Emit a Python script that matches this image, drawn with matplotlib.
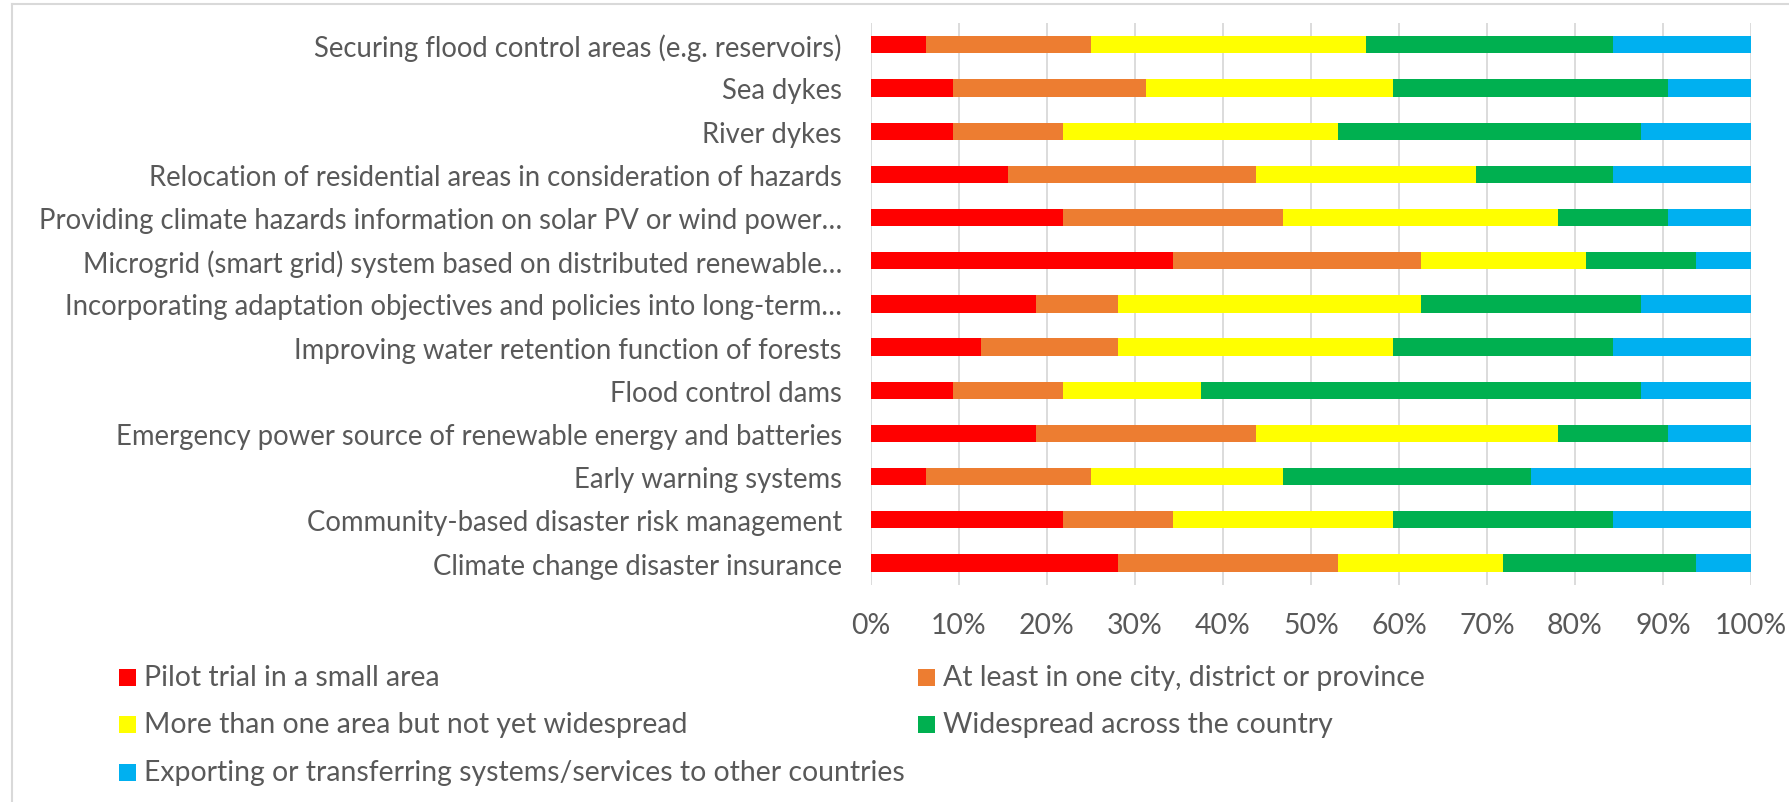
import matplotlib
matplotlib.use("Agg")
import matplotlib.pyplot as plt
from matplotlib.patches import Rectangle
from matplotlib.lines import Line2D
import numpy as np

plt.rcParams["font.family"] = ["Lato", "DejaVu Sans"]

categories = [
    "Securing flood control areas (e.g. reservoirs)",
    "Sea dykes",
    "River dykes",
    "Relocation of residential areas in consideration of hazards",
    "Providing climate hazards information on solar PV or wind power\u2026",
    "Microgrid (smart grid) system based on distributed renewable\u2026",
    "Incorporating adaptation objectives and policies into long-term\u2026",
    "Improving water retention function of forests",
    "Flood control dams",
    "Emergency power source of renewable energy and batteries",
    "Early warning systems",
    "Community-based disaster risk management",
    "Climate change disaster insurance",
]

series_names = [
    "Pilot trial in a small area",
    "At least in one city, district or province",
    "More than one area but not yet widespread",
    "Widespread across the country",
    "Exporting or transferring systems/services to other countries",
]

pilot = [6.25, 9.375, 9.375, 15.625, 21.875, 34.375, 18.75, 12.5, 9.375, 18.75, 6.25, 21.875, 28.125]
one_city = [18.75, 21.875, 12.5, 28.125, 25.0, 28.125, 9.375, 15.625, 12.5, 25.0, 18.75, 12.5, 25.0]
several_areas = [31.25, 28.125, 31.25, 25.0, 31.25, 18.75, 34.375, 31.25, 15.625, 34.375, 21.875, 25.0, 18.75]
widespread = [28.125, 31.25, 34.375, 15.625, 12.5, 12.5, 25.0, 25.0, 50.0, 12.5, 28.125, 25.0, 21.875]
exporting = [15.625, 9.375, 12.5, 15.625, 9.375, 6.25, 12.5, 15.625, 12.5, 9.375, 25.0, 15.625, 6.25]

x_ticks = [0, 10, 20, 30, 40, 50, 60, 70, 80, 90, 100]
x_tick_labels = ["0%", "10%", "20%", "30%", "40%", "50%", "60%", "70%", "80%", "90%", "100%"]

colors = ["#FF0000", "#ED7D31", "#FFFF00", "#00B050", "#00B0F0"]
text_color = "#595959"
grid_color = "#D9D9D9"
font_size = 20.4
category_font_size = 19.8

W, H = 1790, 803
fig = plt.figure(figsize=(W / 100, H / 100), dpi=100)
fig.patch.set_facecolor("white")

ax = fig.add_axes([871 / W, 1 - 585.6 / H, 880 / W, (585.6 - 24.2) / H])

y = np.arange(len(categories))
left = np.zeros(len(categories))
for vals, col, name in zip([pilot, one_city, several_areas, widespread, exporting], colors, series_names):
    vals = np.asarray(vals)
    ax.barh(y, vals, left=left, height=0.4, color=col, label=name, zorder=3)
    left += vals

ax.set_xlim(0, 100)
ax.set_ylim(len(categories) - 0.5, -0.5)
ax.set_yticks(y)
ax.set_yticklabels(categories)
ax.set_xticks(x_ticks)
ax.set_xticklabels(x_tick_labels)
ax.tick_params(axis="y", length=0, pad=21, labelsize=category_font_size, labelcolor=text_color)
ax.tick_params(axis="x", length=0, pad=20, labelsize=font_size, labelcolor=text_color)
ax.grid(axis="x", color=grid_color, linewidth=1.3, zorder=0)
for s in ax.spines.values():
    s.set_visible(False)

# legend drawn in two columns, row-major order
legend_rows = [678, 725, 773]
col_x = [119, 918]
positions = [(col_x[0], legend_rows[0]), (col_x[1], legend_rows[0]),
             (col_x[0], legend_rows[1]), (col_x[1], legend_rows[1]),
             (col_x[0], legend_rows[2])]
for (px, py), col, name in zip(positions, colors, series_names):
    fig.patches.append(Rectangle((px / W, 1 - (py + 8.5) / H), 17 / W, 17 / H,
                                 transform=fig.transFigure, facecolor=col,
                                 edgecolor="none"))
    fig.text((px + 25) / W, 1 - py / H, name, ha="left", va="center",
             fontsize=font_size, color=text_color)

# chart-area frame (top and left edges)
fig.add_artist(Line2D([12 / W, 1], [1 - 5 / H, 1 - 5 / H], transform=fig.transFigure,
                      color=grid_color, linewidth=1.5))
fig.add_artist(Line2D([12 / W, 12 / W], [0, 1 - 5 / H], transform=fig.transFigure,
                      color=grid_color, linewidth=1.5))

fig.savefig("out.png", dpi=100, facecolor="white")
